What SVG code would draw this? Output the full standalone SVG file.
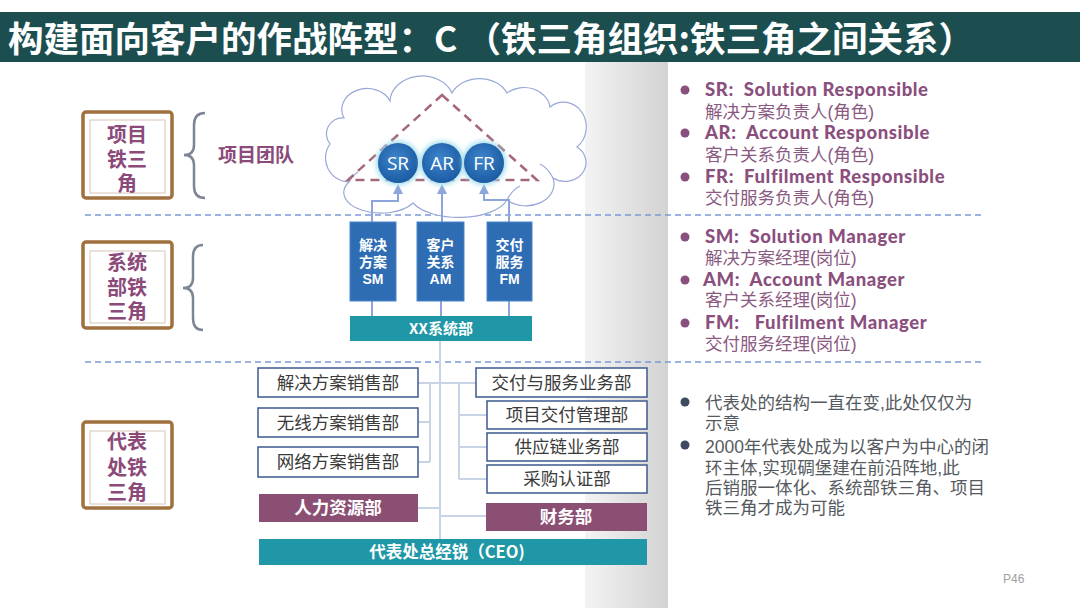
<svg xmlns="http://www.w3.org/2000/svg" width="1080" height="608" viewBox="0 0 1080 608">
<defs>
<linearGradient id="band" x1="0" y1="0" x2="1" y2="0">
<stop offset="0" stop-color="#f3f3f3"/>
<stop offset="1" stop-color="#d3d3d3"/>
</linearGradient>
<radialGradient id="ball" cx="0.45" cy="0.4" r="0.6">
<stop offset="0" stop-color="#3f86cc"/>
<stop offset="1" stop-color="#1b5ba3"/>
</radialGradient>
<filter id="glow" x="-50%" y="-50%" width="200%" height="200%">
<feGaussianBlur stdDeviation="2.5"/>
</filter>
<marker id="arr" viewBox="0 0 10 10" refX="8" refY="5" markerWidth="5" markerHeight="5" orient="auto">
<path d="M0,0 L10,5 L0,10 z" fill="#8ea4dc"/>
</marker>
<style>
.lbl{font-family:"Liberation Sans","Noto Sans CJK SC",sans-serif;font-weight:bold;font-size:20px;fill:#8b4a7a;text-anchor:middle}
.outer{fill:#ffffff;stroke:#a0703e;stroke-width:3.5}
.inner{fill:none;stroke:#d8c4b8;stroke-width:1}
.brace{fill:none;stroke:#7d8694;stroke-width:2.5}
.dash{stroke:#7b9bd6;stroke-width:1.5;stroke-dasharray:6 4;fill:none}
.ball{fill:url(#ball)}
.balltxt{font-family:"Open Sans","Liberation Sans",sans-serif;font-size:19px;fill:#ffffff;text-anchor:middle}
.bluebox{fill:#2e6db4;stroke:#4a85c8;stroke-width:1}
.boxtxt{font-family:"Liberation Sans","Noto Sans CJK SC",sans-serif;font-weight:bold;font-size:14px;fill:#ffffff;text-anchor:middle}
.teal{fill:#1f97a6}
.purple{fill:#8c4f74}
.wbox{fill:#ffffff;stroke:#3d5a90;stroke-width:1.5}
.wtxt{font-family:"Noto Sans CJK SC",sans-serif;font-size:17.5px;fill:#3a3a3a;text-anchor:middle}
.ptxt{font-family:"Noto Sans CJK SC",sans-serif;font-weight:bold;font-size:17.5px;fill:#ffffff;text-anchor:middle}
.up{fill:none;stroke:#8ea4dc;stroke-width:2}
.low{fill:none;stroke:#c8d3e6;stroke-width:2}
.en{font-family:Lato,"Liberation Sans",sans-serif;font-weight:900;font-size:18.5px;letter-spacing:0.6px;fill:#8b4f7e}
.zh{font-family:"Liberation Sans","Noto Sans CJK SC",sans-serif;font-weight:normal;letter-spacing:0;font-size:17.5px;fill:#8a5a82}
.gz{font-family:"Liberation Sans","Noto Sans CJK SC",sans-serif;font-size:17.5px;fill:#555a60}
</style>
</defs>
<rect width="1080" height="608" fill="#ffffff"/>
<rect x="585" y="62" width="83" height="546" fill="url(#band)"/>
<g id="header">
<rect x="0" y="12" width="1080" height="50" fill="#1c4e50"/>
<text x="8" y="52" font-family="Noto Sans CJK SC,sans-serif" font-weight="bold" font-size="35" fill="#ffffff" textLength="966" lengthAdjust="spacingAndGlyphs">构建面向客户的作战阵型：C （铁三角组织:铁三角之间关系）</text>
</g>
<g id="separators">
<line class="dash" x1="85" y1="215" x2="982" y2="215"/>
<line class="dash" x1="85" y1="362" x2="982" y2="362"/>
</g>
<g id="label-project">
<rect class="outer" x="83" y="112" width="89" height="86" rx="3"/>
<rect class="inner" x="90" y="120" width="75" height="73"/>
<text class="lbl"><tspan x="127" y="142">项目</tspan><tspan x="127" y="167">铁三</tspan><tspan x="127" y="191">角</tspan></text>
</g>
<g id="label-system">
<rect class="outer" x="83" y="242" width="89" height="86" rx="3"/>
<rect class="inner" x="90" y="251" width="75" height="72"/>
<text class="lbl"><tspan x="127" y="270">系统</tspan><tspan x="127" y="295">部铁</tspan><tspan x="127" y="319">三角</tspan></text>
</g>
<g id="label-office">
<rect class="outer" x="83" y="422" width="89" height="86" rx="3"/>
<rect class="inner" x="90" y="431" width="75" height="73"/>
<text class="lbl"><tspan x="127" y="449">代表</tspan><tspan x="127" y="475">处铁</tspan><tspan x="127" y="500">三角</tspan></text>
</g>
<g id="braces">
<path class="brace" d="M205 113 Q194 113 194 125 L194 145 Q194 155 184 155 Q194 155 194 165 L194 186 Q194 198 205 198"/>
<path class="brace" d="M203 245 Q193 245 193 257 L193 278 Q193 288 183 288 Q193 288 193 298 L193 318 Q193 330 203 330"/>
</g>
<g id="team-label">
<text x="218" y="162" font-family="Noto Sans CJK SC,sans-serif" font-weight="bold" font-size="19" fill="#8b4a7a">项目团队</text>
</g>
<g id="cloud">
<path d="M344 118 A24 20 0 0 1 390 101 A32 26 0 0 1 452 93 A30 24 0 0 1 507 93 A26 22 0 0 1 550 107 A22 24 0 0 1 577 147 A20 18 0 0 1 553 178 A28 22 0 0 1 507 200 A50 24 0 0 1 413 203 A36 20 0 0 1 349 182 A24 24 0 0 1 330 144 A16 16 0 0 1 344 118 Z" fill="#ffffff" stroke="#9aa8d8" stroke-width="1.2"/>
<path d="M507 200 Q512 190 520 186 M553 178 Q548 168 540 164 M349 182 Q352 176 358 172" fill="none" stroke="#9aa8d8" stroke-width="1.2"/>
<path d="M442 95 L537 180 L348 180 Z" fill="none" stroke="#a56878" stroke-width="2.5" stroke-dasharray="9 6"/>
</g>
<g id="connectors">
<path class="up" d="M372 222 L372 201 L398 201 L398 186" marker-end="url(#arr)"/>
<path class="up" d="M442 222 L442 186" marker-end="url(#arr)"/>
<path class="up" d="M509 222 L509 200 L484 200 L484 186" marker-end="url(#arr)"/>
<path class="up" d="M372 301 L372 316 M441 301 L441 316 M509 301 L509 316"/>
<path class="low" d="M440 341 L440 539"/>
<path class="low" d="M418 383 L476 383 M430 383 L430 462 M418 422 L430 422 M418 462 L430 462"/>
<path class="low" d="M459 383 L459 479 M459 415 L487 415 M459 447 L487 447 M459 479 L487 479"/>
<path class="low" d="M418 508 L440 508 M440 516 L486 516"/>
</g>
<g id="node-SR">
<circle cx="398" cy="163" r="22" fill="#9fdcec" filter="url(#glow)"/>
<circle class="ball" cx="398" cy="163" r="20"/>
<text class="balltxt" x="398" y="170">SR</text>
</g>
<g id="node-AR">
<circle cx="442" cy="163" r="22" fill="#9fdcec" filter="url(#glow)"/>
<circle class="ball" cx="442" cy="163" r="20"/>
<text class="balltxt" x="442" y="170">AR</text>
</g>
<g id="node-FR">
<circle cx="484" cy="163" r="22" fill="#9fdcec" filter="url(#glow)"/>
<circle class="ball" cx="484" cy="163" r="20"/>
<text class="balltxt" x="484" y="170">FR</text>
</g>
<g id="node-SM">
<rect class="bluebox" x="350" y="222" width="46" height="79"/>
<text class="boxtxt"><tspan x="373" y="250">解决</tspan><tspan x="373" y="267">方案</tspan><tspan x="373" y="284">SM</tspan></text>
</g>
<g id="node-AM">
<rect class="bluebox" x="417" y="222" width="47" height="79"/>
<text class="boxtxt"><tspan x="440.5" y="250">客户</tspan><tspan x="440.5" y="267">关系</tspan><tspan x="440.5" y="284">AM</tspan></text>
</g>
<g id="node-FM">
<rect class="bluebox" x="487" y="222" width="45" height="79"/>
<text class="boxtxt"><tspan x="509.5" y="250">交付</tspan><tspan x="509.5" y="267">服务</tspan><tspan x="509.5" y="284">FM</tspan></text>
</g>
<g id="node-xx">
<rect class="teal" x="350" y="316" width="182" height="25"/>
<text x="441" y="334" font-family="Noto Sans CJK SC,sans-serif" font-weight="bold" font-size="15" fill="#ffffff" text-anchor="middle">XX系统部</text>
</g>
<g id="node-sales1">
<rect class="wbox" x="258" y="368" width="160" height="29"/>
<text class="wtxt" x="338" y="389">解决方案销售部</text>
</g>
<g id="node-sales2">
<rect class="wbox" x="258" y="408" width="160" height="29"/>
<text class="wtxt" x="338" y="429">无线方案销售部</text>
</g>
<g id="node-sales3">
<rect class="wbox" x="258" y="447" width="160" height="30"/>
<text class="wtxt" x="338" y="468">网络方案销售部</text>
</g>
<g id="node-hr">
<rect class="purple" x="259" y="494" width="159" height="28"/>
<text class="ptxt" x="338" y="514">人力资源部</text>
</g>
<g id="node-delivery">
<rect class="wbox" x="476" y="368" width="171" height="29"/>
<text class="wtxt" x="561.5" y="389">交付与服务业务部</text>
</g>
<g id="node-pmo">
<rect class="wbox" x="487" y="401" width="160" height="28"/>
<text class="wtxt" x="567" y="421">项目交付管理部</text>
</g>
<g id="node-supply">
<rect class="wbox" x="487" y="433" width="160" height="28"/>
<text class="wtxt" x="567" y="453">供应链业务部</text>
</g>
<g id="node-purchase">
<rect class="wbox" x="487" y="465" width="160" height="28"/>
<text class="wtxt" x="567" y="485">采购认证部</text>
</g>
<g id="node-finance">
<rect class="purple" x="486" y="503" width="161" height="28"/>
<text class="ptxt" x="566" y="523">财务部</text>
</g>
<g id="node-ceo">
<rect class="teal" x="259" y="539" width="388" height="26"/>
<text x="447" y="558" font-family="Noto Sans CJK SC,sans-serif" font-weight="bold" font-size="16.5" fill="#ffffff" text-anchor="middle">代表处总经锐（CEO)</text>
</g>
<g id="legend-roles">
<circle cx="685" cy="90" r="4.5" fill="#8b4f7e"/>
<circle cx="685" cy="133" r="4.5" fill="#8b4f7e"/>
<circle cx="685" cy="177" r="4.5" fill="#8b4f7e"/>
<text class="en" xml:space="preserve"><tspan x="705" y="96">SR:  Solution Responsible</tspan><tspan class="zh" x="705" y="118">解决方案负责人(角色)</tspan><tspan x="705" y="139">AR:  Account Responsible</tspan><tspan class="zh" x="705" y="161">客户关系负责人(角色)</tspan><tspan x="705" y="183">FR:  Fulfilment Responsible</tspan><tspan class="zh" x="705" y="204">交付服务负责人(角色)</tspan></text>
</g>
<g id="legend-posts">
<circle cx="685" cy="237" r="4.5" fill="#8b4f7e"/>
<circle cx="685" cy="280" r="4.5" fill="#8b4f7e"/>
<circle cx="685" cy="323" r="4.5" fill="#8b4f7e"/>
<text class="en" xml:space="preserve"><tspan x="705" y="243">SM:  Solution Manager</tspan><tspan class="zh" x="705" y="264">解决方案经理(岗位)</tspan><tspan x="703" y="286">AM:  Account Manager</tspan><tspan class="zh" x="705" y="306">客户关系经理(岗位)</tspan><tspan x="705" y="329">FM:   Fulfilment Manager</tspan><tspan class="zh" x="705" y="350">交付服务经理(岗位)</tspan></text>
</g>
<g id="notes">
<circle cx="685" cy="402" r="4.5" fill="#3d4a60"/>
<circle cx="685" cy="445" r="4.5" fill="#3d4a60"/>
<text class="gz"><tspan x="705" y="409">代表处的结构一直在变,此处仅仅为</tspan><tspan x="705" y="429">示意</tspan><tspan x="705" y="453">2000年代表处成为以客户为中心的闭</tspan><tspan x="705" y="474">环主体,实现碉堡建在前沿阵地,此</tspan><tspan x="705" y="494">后销服一体化、系统部铁三角、项目</tspan><tspan x="705" y="514">铁三角才成为可能</tspan></text>
</g>
<text x="1003" y="583" font-family="Liberation Sans,sans-serif" font-size="12" fill="#a0a0a0">P46</text>
</svg>
